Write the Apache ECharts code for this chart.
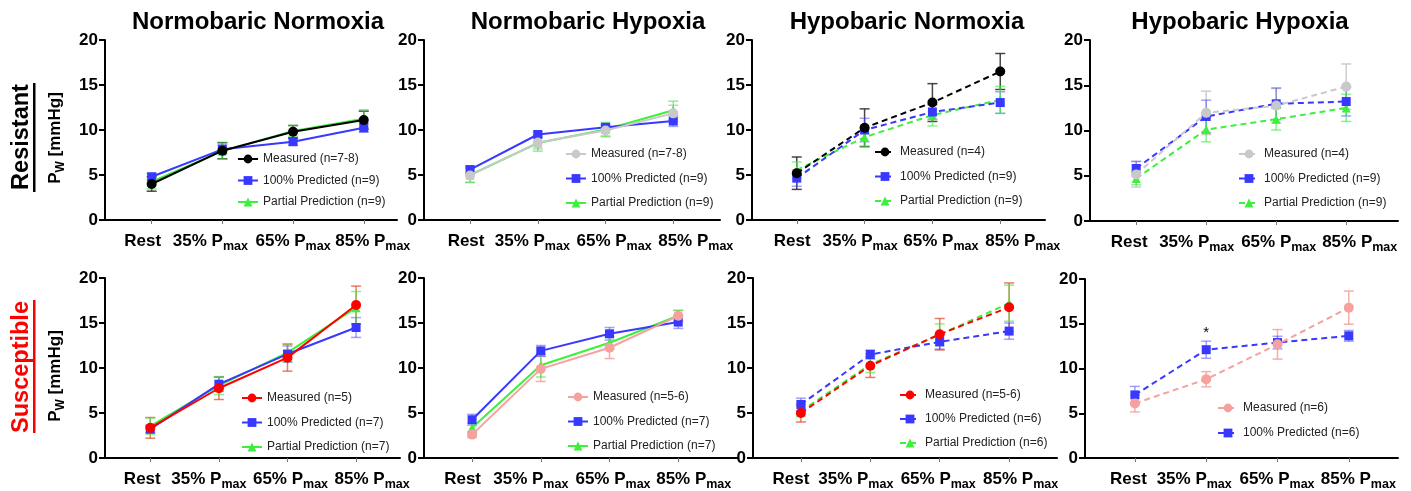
<!DOCTYPE html>
<html>
<head>
<meta charset="utf-8">
<script src="https://cdn.jsdelivr.net/npm/echarts@6/dist/echarts.min.js"></script>
<style>html,body{margin:0;padding:0;background:#fff;}#c{width:1411px;height:491px;}</style>
</head>
<body>
<div id="c"></div>
<script>
// ---------- DATA ----------
const xTickValues = [0, 1, 2, 3];
const xTickMain = ['Rest', '35% P', '65% P', '85% P'];
const xTickSub = ['', 'max', 'max', 'max'];
const yTicks = [0, 5, 10, 15, 20];
const panelTitles = ['Normobaric Normoxia', 'Normobaric Hypoxia', 'Hypobaric Normoxia', 'Hypobaric Hypoxia'];
const rowLabels = ['Resistant', 'Susceptible'];

// Resistant - Normobaric Normoxia
const nnResMeas = [4.0, 7.7, 9.8, 11.1];      const nnResMeasErr = [0.8, 0.9, 0.7, 1.0];
const nnResPred = [4.8, 7.85, 8.7, 10.25];    const nnResPredErr = [0.4, 0.5, 0.4, 0.5];
const nnResPart = [4.25, 7.65, 9.9, 11.25];   const nnResPartErr = [0.8, 0.9, 0.6, 1.0];
// Resistant - Normobaric Hypoxia
const nhResMeas = [4.95, 8.6, 9.95, 11.85];   const nhResMeasErr = [0.8, 0.7, 0.6, 0.9];
const nhResPred = [5.6, 9.5, 10.3, 11.0];     const nhResPredErr = [0.4, 0.3, 0.3, 0.6];
const nhResPart = [5.0, 8.55, 10.05, 12.2];   const nhResPartErr = [0.8, 0.9, 0.8, 1.0];
// Resistant - Hypobaric Normoxia
const hnResMeas = [5.2, 10.25, 13.05, 16.5];  const hnResMeasErr = [1.8, 2.1, 2.1, 2.0];
const hnResPred = [4.65, 10.0, 12.0, 13.05];  const hnResPredErr = [0.9, 1.3, 0.8, 1.2];
const hnResPart = [5.55, 9.2, 11.65, 13.35];  const hnResPartErr = [0.9, 1.0, 1.2, 1.5];
// Resistant - Hypobaric Hypoxia
const hhResMeas = [5.15, 11.95, 12.75, 14.85]; const hhResMeasErr = [1.4, 2.4, 1.9, 2.5];
const hhResPred = [5.8, 11.55, 12.95, 13.2];   const hhResPredErr = [0.8, 1.8, 1.75, 1.6];
const hhResPart = [4.7, 10.1, 11.25, 12.5];    const hhResPartErr = [0.7, 1.35, 1.2, 1.5];
// Susceptible - Normobaric Normoxia
const nnSusMeas = [3.35, 7.75, 11.15, 17.0];  const nnSusMeasErr = [1.15, 1.25, 1.5, 2.1];
const nnSusPred = [3.2, 8.2, 11.55, 14.5];    const nnSusPredErr = [0.4, 0.8, 0.9, 1.1];
const nnSusPart = [3.55, 8.05, 11.7, 16.7];   const nnSusPartErr = [0.9, 1.0, 1.0, 1.8];
// Susceptible - Normobaric Hypoxia
const nhSusMeas = [2.6, 9.9, 12.25, 15.8];    const nhSusMeasErr = [0.3, 1.4, 1.2, 0.6];
const nhSusPred = [4.25, 11.9, 13.8, 15.1];   const nhSusPredErr = [0.6, 0.6, 0.7, 0.7];
const nhSusPart = [3.35, 10.3, 12.8, 15.8];   const nhSusPartErr = [0.5, 1.3, 0.7, 0.6];
// Susceptible - Hypobaric Normoxia
const hnSusMeas = [5.0, 10.25, 13.75, 16.75]; const hnSusMeasErr = [1.0, 1.3, 1.75, 2.7];
const hnSusPred = [5.95, 11.5, 12.9, 14.1];   const hnSusPredErr = [0.7, 0.5, 0.8, 0.9];
const hnSusPart = [5.2, 10.4, 13.7, 17.2];    const hnSusPartErr = [0.6, 0.9, 1.2, 2.0];
// Susceptible - Hypobaric Hypoxia
const hhSusMeas = [6.1, 8.8, 12.7, 16.8];     const hhSusMeasErr = [0.95, 0.85, 1.65, 1.85];
const hhSusPred = [7.05, 12.1, 12.9, 13.65];  const hhSusPredErr = [0.95, 0.95, 0.7, 0.6];
const hhSusSigIndex = 1; const hhSusSigValue = 14.0;

// ---------- STYLE / LAYOUT ----------
const FONT = '"Liberation Sans", Arial, sans-serif';
const C = {
  black: '#000000', gray: '#c9c9c9', red: '#ff0000', pink: '#f7a19e',
  blue: '#3838ff', green: '#3cf03c'
};
const E = {
  black: 'rgba(40,40,40,0.85)', gray: 'rgba(200,200,200,0.9)', red: 'rgba(225,80,50,0.75)',
  pink: 'rgba(245,160,155,0.85)', blue: 'rgba(70,70,255,0.5)', green: 'rgba(60,235,60,0.6)'
};
const SYM = { meas: ['circle', 10], pred: ['rect', 9], part: ['triangle', 9] };

// g: grid [left, top, width, height]; xr: x extent; lab: horizontal label shift (px) per tick; leg: [left, top, gap]
const panels = [
  { g: [105, 40, 292, 180], xr: [-0.66, 3.47], dash: false, leg: [237, 153, 9.5], lab: [-9, -12, 0, 9],
    s: [['meas','black','Measured (n=7-8)',nnResMeas,nnResMeasErr],['pred','blue','100% Predicted (n=9)',nnResPred,nnResPredErr],['part','green','Partial Prediction (n=9)',nnResPart,nnResPartErr]] },
  { g: [424, 40, 296, 180], xr: [-0.68, 3.69], dash: false, leg: [565, 148, 12.5], lab: [-4, -5.5, 8.5, 22.5],
    s: [['meas','gray','Measured (n=7-8)',nhResMeas,nhResMeasErr],['pred','blue','100% Predicted (n=9)',nhResPred,nhResPredErr],['part','green','Partial Prediction (n=9)',nhResPart,nhResPartErr]] },
  { g: [752, 40, 293, 180], xr: [-0.66, 3.66], dash: true, leg: [874, 146, 12.5], lab: [-4.5, -4.5, 8.5, 22.5],
    s: [['meas','black','Measured (n=4)',hnResMeas,hnResMeasErr],['pred','blue','100% Predicted (n=9)',hnResPred,hnResPredErr],['part','green','Partial Prediction (n=9)',hnResPart,hnResPartErr]] },
  { g: [1090, 40, 308, 181], xr: [-0.66, 3.74], dash: true, leg: [1238, 148, 12.5], lab: [-7, -9.5, 2.5, 13.5],
    s: [['meas','gray','Measured (n=4)',hhResMeas,hhResMeasErr],['pred','blue','100% Predicted (n=9)',hhResPred,hhResPredErr],['part','green','Partial Prediction (n=9)',hhResPart,hhResPartErr]] },
  { g: [105, 278, 295, 181], xr: [-0.66, 3.64], dash: false, leg: [241, 392, 12.5], lab: [-8, -10, 3, 16],
    s: [['meas','red','Measured (n=5)',nnSusMeas,nnSusMeasErr],['pred','blue','100% Predicted (n=7)',nnSusPred,nnSusPredErr],['part','green','Partial Prediction (n=7)',nnSusPart,nnSusPartErr]] },
  { g: [424, 278, 314, 180], xr: [-0.70, 3.87], dash: false, leg: [567, 391, 12.5], lab: [-9.5, -10, 3.5, 15.5],
    s: [['meas','pink','Measured (n=5-6)',nhSusMeas,nhSusMeasErr],['pred','blue','100% Predicted (n=7)',nhSusPred,nhSusPredErr],['part','green','Partial Prediction (n=7)',nhSusPart,nhSusPartErr]] },
  { g: [753, 278, 304, 180], xr: [-0.69, 3.69], dash: true, leg: [899, 389, 12], lab: [-10, -14.5, -1.5, 11.5],
    s: [['meas','red','Measured (n=5-6)',hnSusMeas,hnSusMeasErr],['pred','blue','100% Predicted (n=6)',hnSusPred,hnSusPredErr],['part','green','Partial Prediction (n=6)',hnSusPart,hnSusPartErr]] },
  { g: [1085, 279, 313, 180], xr: [-0.70, 3.69], dash: true, leg: [1217, 402, 13], lab: [-6.5, -12, -0.5, 9.5],
    s: [['meas','pink','Measured (n=6)',hhSusMeas,hhSusMeasErr],['pred','blue','100% Predicted (n=6)',hhSusPred,hhSusPredErr]] }
];
const titleCenters = [258, 588, 907, 1240];

function errRender(color) {
  return function (params, api) {
    const x = api.value(0), lo = api.value(1), hi = api.value(2);
    const a = api.coord([x, lo]), b = api.coord([x, hi]);
    const w = 5;
    const st = { stroke: color, lineWidth: 1.5, fill: null };
    return { type: 'group', children: [
      { type: 'line', shape: { x1: a[0], y1: a[1], x2: b[0], y2: b[1] }, style: st },
      { type: 'line', shape: { x1: a[0] - w, y1: a[1], x2: a[0] + w, y2: a[1] }, style: st },
      { type: 'line', shape: { x1: b[0] - w, y1: b[1], x2: b[0] + w, y2: b[1] }, style: st }
    ]};
  };
}

const mainStyle = { fontFamily: FONT, fontSize: 17, fontWeight: 'bold', color: '#000', lineHeight: 20, verticalAlign: 'top' };
const subStyle = { fontFamily: FONT, fontSize: 12.5, fontWeight: 'bold', color: '#000', lineHeight: 12, verticalAlign: 'bottom' };
function labelRich(shifts) {
  const r = {};
  shifts.forEach((d, k) => {
    const padL = d > 0 ? 2 * d : 0, padR = d < 0 ? -2 * d : 0;
    const hasSub = !!xTickSub[k];
    r['m' + k] = Object.assign({}, mainStyle, { padding: [0, hasSub ? 0 : padR, 0, padL] });
    r['x' + k] = Object.assign({}, subStyle, { padding: [0, padR, 0, 0] });
  });
  return r;
}
function labelText(v) {
  const k = Math.round(v);
  if (k < 0 || k >= xTickMain.length) return '';
  return '{m' + k + '|' + xTickMain[k] + '}' + (xTickSub[k] ? '{x' + k + '|' + xTickSub[k] + '}' : '');
}

const grid = [], xAxis = [], yAxis = [], series = [], legend = [], title = [];
panels.forEach((p, i) => {
  grid.push({ left: p.g[0], top: p.g[1], width: p.g[2], height: p.g[3], containLabel: false });
  const rich = labelRich(p.lab);
  xAxis.push({
    type: 'value', gridIndex: i, min: p.xr[0], max: p.xr[1],
    axisLine: { show: true, onZero: false, lineStyle: { color: '#000', width: 2 } },
    axisTick: { show: true, customValues: xTickValues, length: 4, lineStyle: { color: '#777', width: 1 } },
    splitLine: { show: false },
    axisLabel: {
      customValues: xTickValues.filter(v => v % 2 === 0), margin: 13, showMaxLabel: true, showMinLabel: true,
      formatter: labelText, rich: rich
    }
  });
  xAxis.push({
    type: 'value', gridIndex: i, min: p.xr[0], max: p.xr[1], position: 'bottom', offset: 0,
    axisLine: { show: false, onZero: false }, axisTick: { show: false }, splitLine: { show: false },
    axisLabel: {
      customValues: xTickValues.filter(v => v % 2 === 1), margin: 13, showMaxLabel: true, showMinLabel: true,
      formatter: labelText, rich: rich
    }
  });
  yAxis.push({
    type: 'value', gridIndex: i, min: 0, max: 20, interval: 5,
    axisLine: { show: true, onZero: false, lineStyle: { color: '#000', width: 2 } },
    axisTick: { show: true, length: 6, lineStyle: { color: '#000', width: 2 } },
    splitLine: { show: false },
    axisLabel: { margin: 7, fontFamily: FONT, fontSize: 17, fontWeight: 'bold', color: '#000',
      formatter: v => (yTicks.indexOf(v) >= 0 ? String(v) : '') }
  });
  const xi = 2 * i;
  const names = [];
  p.s.forEach(s => {
    series.push({
      type: 'custom', xAxisIndex: xi, yAxisIndex: i, silent: true, z: 1,
      renderItem: errRender(E[s[1]]),
      data: s[3].map((v, k) => [k, v - s[4][k], v + s[4][k]])
    });
  });
  const order = p.s.slice().reverse();
  order.forEach((s, k) => {
    const nm = 'p' + i + '|' + s[2];
    series.push({
      type: 'line', name: nm, xAxisIndex: xi, yAxisIndex: i, z: 3 + k,
      symbol: SYM[s[0]][0], symbolSize: SYM[s[0]][1], showSymbol: true,
      lineStyle: { color: C[s[1]], width: 2, type: p.dash ? [6, 4] : 'solid' },
      itemStyle: { color: C[s[1]] },
      data: s[3].map((v, k2) => [k2, v]),
      animation: false
    });
  });
  p.s.forEach(s => names.push('p' + i + '|' + s[2]));
  legend.push({
    data: names, orient: 'vertical', left: p.leg[0], top: p.leg[1], itemGap: p.leg[2],
    itemWidth: 20, itemHeight: 11, padding: 0, selectedMode: false,
    formatter: n => n.split('|')[1],
    textStyle: { fontFamily: FONT, fontSize: 12, color: '#222' }
  });
});

series.push({
  type: 'custom', xAxisIndex: 14, yAxisIndex: 7, silent: true, z: 10,
  renderItem: (params, api) => {
    const pt = api.coord([api.value(0), api.value(1)]);
    return { type: 'text', x: pt[0], y: pt[1], style: { text: '*', font: '15px ' + FONT, fill: '#000', align: 'center', verticalAlign: 'middle' } };
  },
  data: [[hhSusSigIndex, hhSusSigValue]]
});

panelTitles.forEach((t, i) => {
  title.push({ text: t, left: titleCenters[i], top: 10, textAlign: 'center', padding: 0,
    textStyle: { fontFamily: FONT, fontSize: 24, fontWeight: 'bold', color: '#000' } });
});

const yNameRich = {
  a: { font: 'bold 17px ' + FONT, fill: '#000', lineHeight: 20, verticalAlign: 'top' },
  b: { font: 'bold 12px ' + FONT, fill: '#000', lineHeight: 12, verticalAlign: 'bottom' }
};
const graphic = [
  { type: 'text', x: 22, y: 137, rotation: Math.PI / 2,
    style: { text: rowLabels[0], font: 'bold 23.5px ' + FONT, fill: '#000', align: 'center', verticalAlign: 'middle' } },
  { type: 'rect', shape: { x: 33, y: 83, width: 2.5, height: 109 }, style: { fill: '#000' } },
  { type: 'text', x: 22, y: 367, rotation: Math.PI / 2,
    style: { text: rowLabels[1], font: 'bold 23.5px ' + FONT, fill: '#ff0000', align: 'center', verticalAlign: 'middle' } },
  { type: 'rect', shape: { x: 33, y: 300, width: 2.5, height: 133 }, style: { fill: '#ff0000' } },
  { type: 'text', x: 57, y: 138, rotation: Math.PI / 2,
    style: { text: '{a|P}{b|W}{a| [mmHg]}', align: 'center', verticalAlign: 'middle', rich: yNameRich } },
  { type: 'text', x: 57, y: 376, rotation: Math.PI / 2,
    style: { text: '{a|P}{b|W}{a| [mmHg]}', align: 'center', verticalAlign: 'middle', rich: yNameRich } }
];

const chart = echarts.init(document.getElementById('c'));
chart.setOption({ animation: false, backgroundColor: '#fff', title, grid, xAxis, yAxis, series, legend, graphic });
</script>
</body>
</html>
